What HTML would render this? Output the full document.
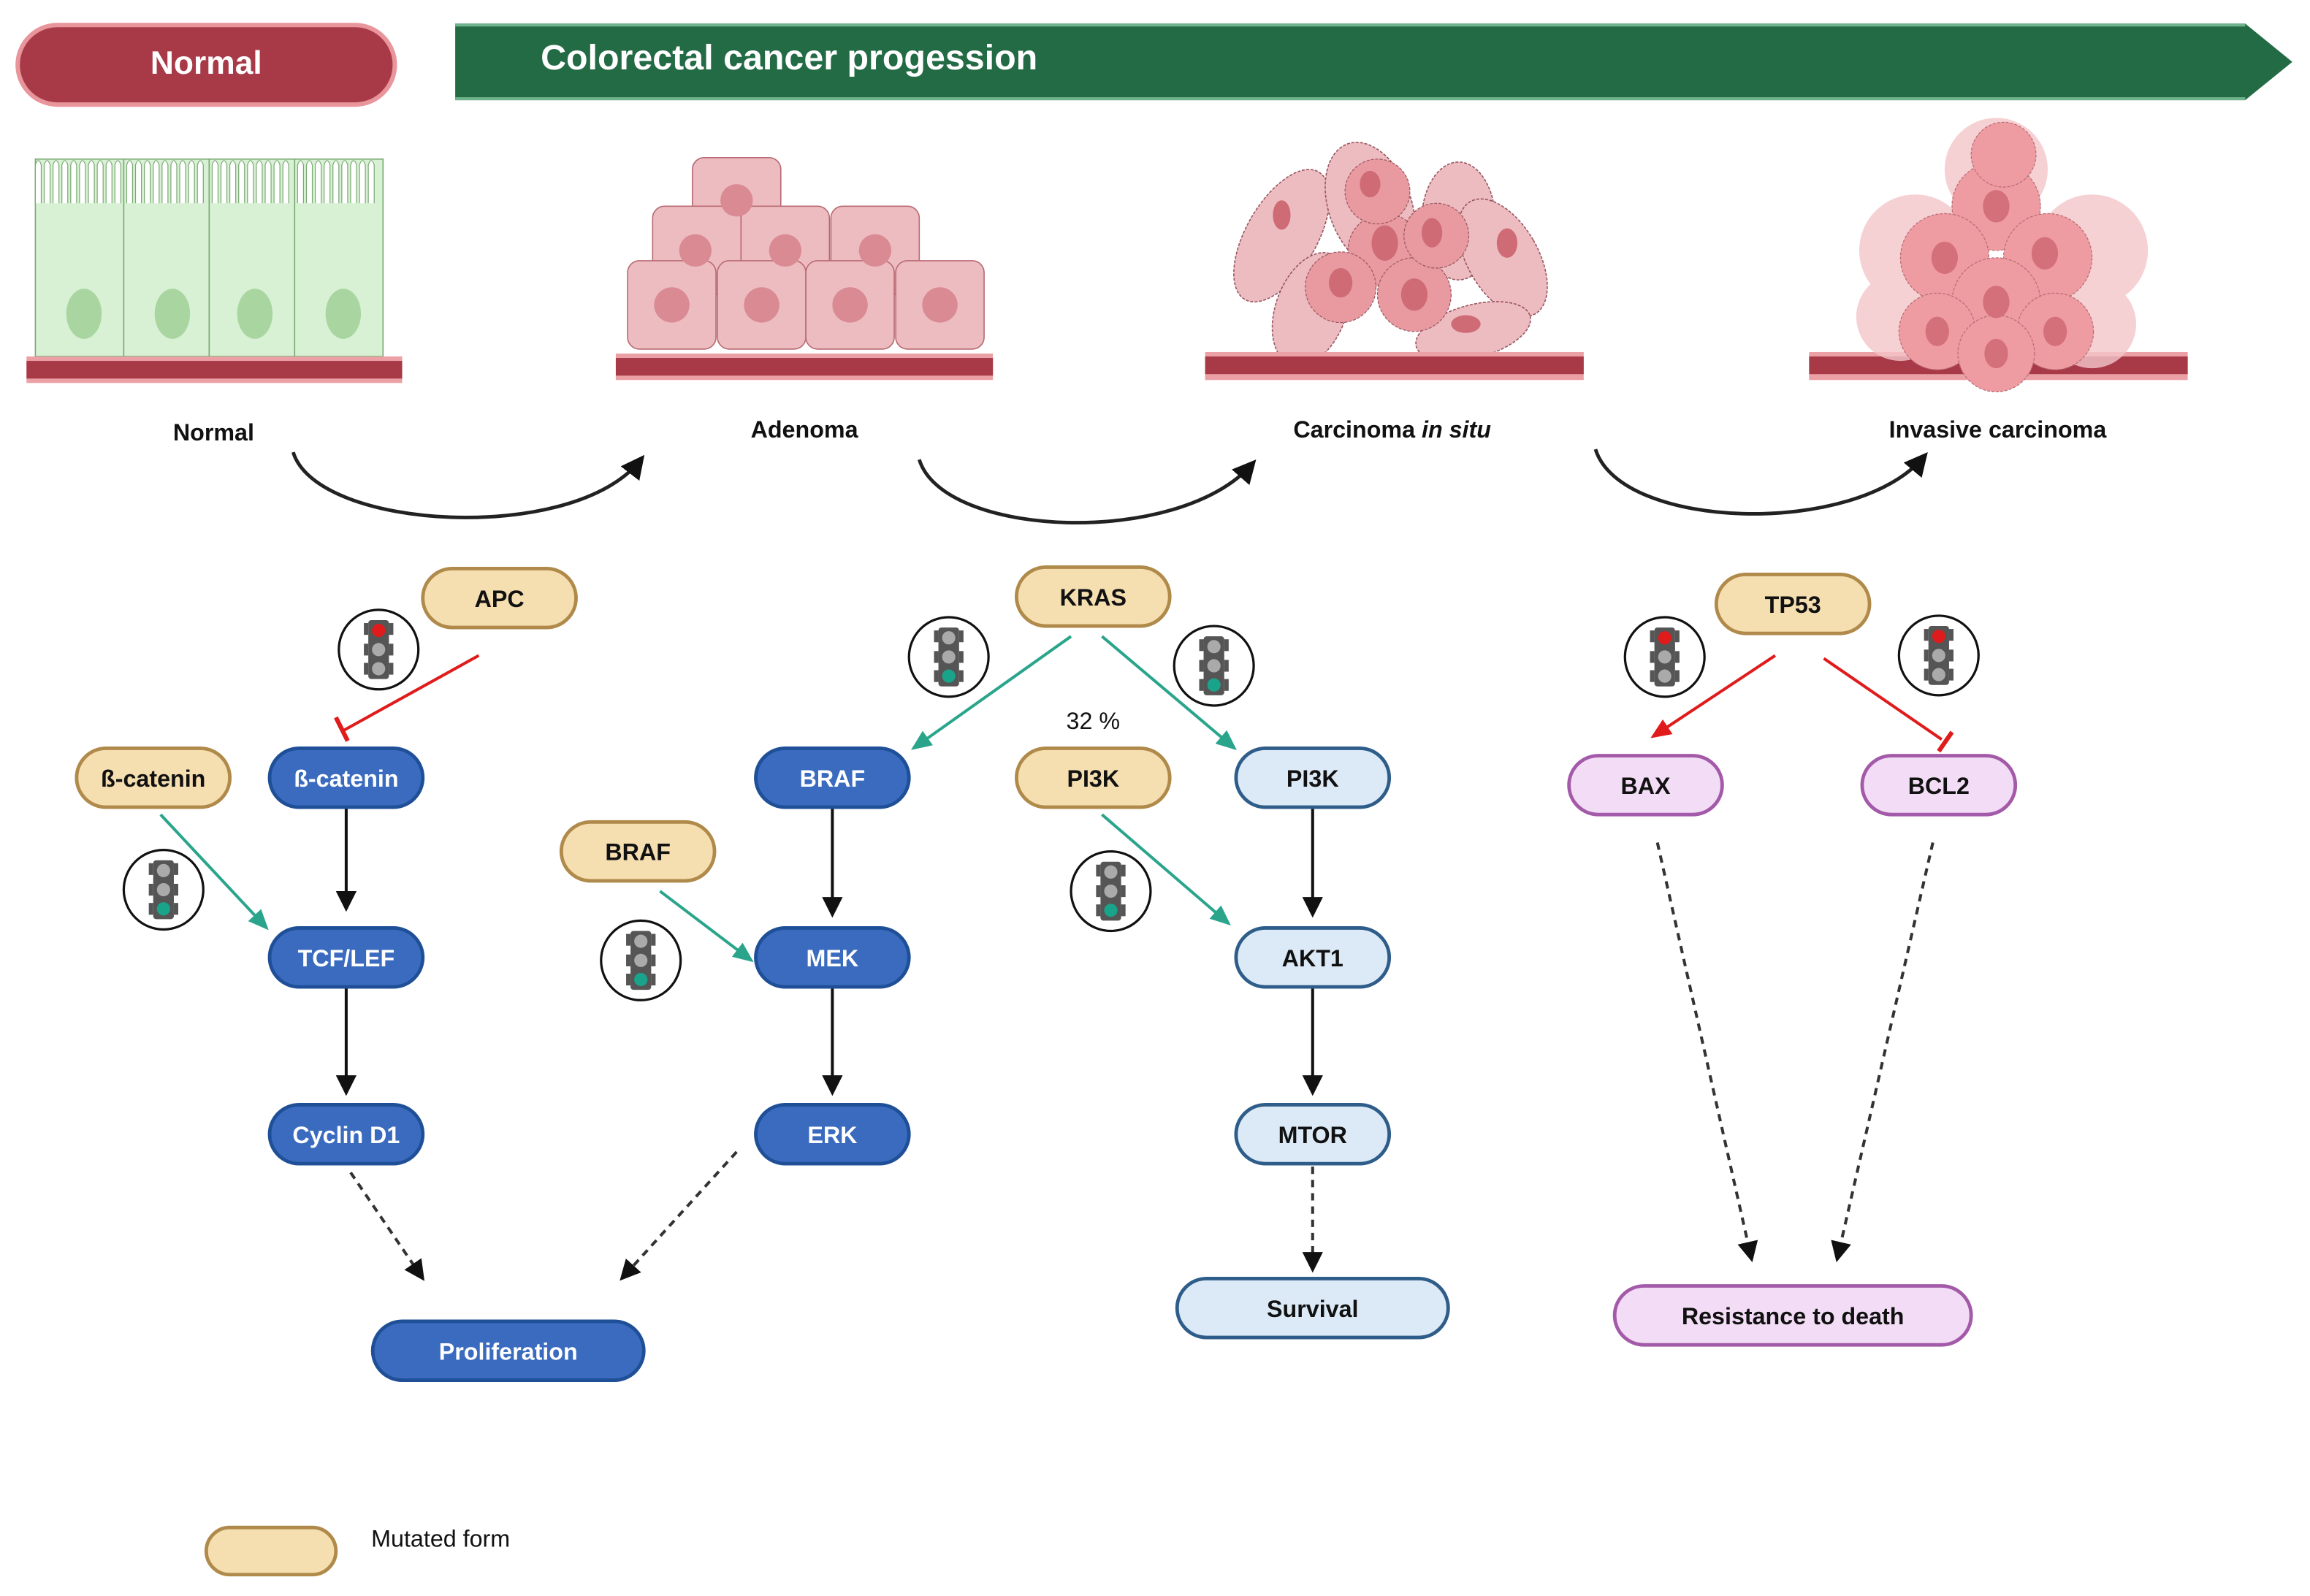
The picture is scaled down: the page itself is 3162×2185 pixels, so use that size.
<!DOCTYPE html>
<html><head><meta charset="utf-8"><style>
html,body{margin:0;padding:0;background:#fff;width:3162px;height:2185px;overflow:hidden}
svg{display:block}
text{font-family:"Liberation Sans",Arial,sans-serif;font-weight:bold}
</style></head><body>
<svg width="3162" height="2185" viewBox="0 0 1568 1083.5" preserveAspectRatio="none" xmlns="http://www.w3.org/2000/svg">
<defs>
<marker id="ab" markerWidth="14" markerHeight="14" refX="12" refY="7" orient="auto" markerUnits="userSpaceOnUse"><path d="M0,0 L14,7 L0,14 z" fill="#111"/></marker>
<marker id="ab2" markerWidth="16" markerHeight="16" refX="12" refY="8" orient="auto" markerUnits="userSpaceOnUse"><path d="M0,0 L16,8 L0,16 z" fill="#111"/></marker>
<marker id="ag" markerWidth="14" markerHeight="12" refX="12" refY="6" orient="auto" markerUnits="userSpaceOnUse"><path d="M0,0 L14,6 L0,12 z" fill="#2aa58c"/></marker>
<marker id="ar" markerWidth="14" markerHeight="12" refX="12" refY="6" orient="auto" markerUnits="userSpaceOnUse"><path d="M0,0 L14,6 L0,12 z" fill="#e01b1b"/></marker>
<g id="tl"><circle r="27" fill="#fff" stroke="#111" stroke-width="1.6"/><rect x="-7" y="-20" width="14" height="40" rx="2" fill="#555"/><rect x="-10" y="-18" width="3" height="8" fill="#555"/><rect x="7" y="-18" width="3" height="8" fill="#555"/><rect x="-10" y="-4" width="3" height="8" fill="#555"/><rect x="7" y="-4" width="3" height="8" fill="#555"/><rect x="-10" y="9" width="3" height="8" fill="#555"/><rect x="7" y="9" width="3" height="8" fill="#555"/></g>
</defs>

<!-- header -->
<rect x="12" y="17" width="256" height="54" rx="27" fill="#a83a48" stroke="#e8959b" stroke-width="3"/>
<text x="140" y="50" font-size="22" fill="#fff" text-anchor="middle">Normal</text>
<path d="M309,16 L1524,16 L1556,42 L1524,68 L309,68 z" fill="#236b45"/>
<rect x="309" y="16" width="1215" height="2" fill="#6fb38c"/>
<rect x="309" y="66" width="1215" height="2" fill="#6fb38c"/>
<text x="367" y="47" font-size="24" fill="#fff">Colorectal cancer progession</text>

<!-- normal cells -->
<g stroke="#7aa973" stroke-width="0.8" fill="#d8f1d4">
<rect x="24" y="108" width="60" height="134"/><rect x="84" y="108" width="58" height="134"/><rect x="142" y="108" width="58" height="134"/><rect x="200" y="108" width="60" height="134"/>
</g>
<g fill="#ffffff" stroke="#7aa973" stroke-width="0.6">
<path d="M24,138 L24,112 q2,-6 4,0 v26 M30,138 v-26 q2,-6 4,0 v26 M36,138 v-26 q2,-6 4,0 v26 M42,138 v-26 q2,-6 4,0 v26 M48,138 v-26 q2,-6 4,0 v26 M54,138 v-26 q2,-6 4,0 v26 M60,138 v-26 q2,-6 4,0 v26 M66,138 v-26 q2,-6 4,0 v26 M72,138 v-26 q2,-6 4,0 v26 M78,138 v-26 q2,-6 4,0 v26 M86,138 v-26 q2,-6 4,0 v26 M92,138 v-26 q2,-6 4,0 v26 M98,138 v-26 q2,-6 4,0 v26 M104,138 v-26 q2,-6 4,0 v26 M110,138 v-26 q2,-6 4,0 v26 M116,138 v-26 q2,-6 4,0 v26 M122,138 v-26 q2,-6 4,0 v26 M128,138 v-26 q2,-6 4,0 v26 M134,138 v-26 q2,-6 4,0 v26 M144,138 v-26 q2,-6 4,0 v26 M150,138 v-26 q2,-6 4,0 v26 M156,138 v-26 q2,-6 4,0 v26 M162,138 v-26 q2,-6 4,0 v26 M168,138 v-26 q2,-6 4,0 v26 M174,138 v-26 q2,-6 4,0 v26 M180,138 v-26 q2,-6 4,0 v26 M186,138 v-26 q2,-6 4,0 v26 M192,138 v-26 q2,-6 4,0 v26 M202,138 v-26 q2,-6 4,0 v26 M208,138 v-26 q2,-6 4,0 v26 M214,138 v-26 q2,-6 4,0 v26 M220,138 v-26 q2,-6 4,0 v26 M226,138 v-26 q2,-6 4,0 v26 M232,138 v-26 q2,-6 4,0 v26 M238,138 v-26 q2,-6 4,0 v26 M244,138 v-26 q2,-6 4,0 v26 M250,138 v-26 q2,-6 4,0 v26"/>
</g>
<g fill="#a9d6a0"><ellipse cx="57" cy="213" rx="12" ry="17"/><ellipse cx="117" cy="213" rx="12" ry="17"/><ellipse cx="173" cy="213" rx="12" ry="17"/><ellipse cx="233" cy="213" rx="12" ry="17"/></g>
<rect x="18" y="242" width="255" height="18" fill="#eba0a5"/><rect x="18" y="245" width="255" height="12" fill="#a83a48"/>
<text x="145" y="299" font-size="16" fill="#111" text-anchor="middle">Normal</text>

<!-- adenoma -->
<g fill="#edbcc0" stroke="#b86a72" stroke-width="0.8">
<rect x="470" y="107" width="60" height="60" rx="8"/>
<rect x="443" y="140" width="60" height="60" rx="8"/><rect x="503" y="140" width="60" height="60" rx="8"/><rect x="564" y="140" width="60" height="60" rx="8"/>
<rect x="426" y="177" width="60" height="60" rx="8"/><rect x="487" y="177" width="60" height="60" rx="8"/><rect x="547" y="177" width="60" height="60" rx="8"/><rect x="608" y="177" width="60" height="60" rx="8"/>
</g>
<g fill="#d98a92"><circle cx="500" cy="136" r="11"/><circle cx="472" cy="170" r="11"/><circle cx="533" cy="170" r="11"/><circle cx="594" cy="170" r="11"/><circle cx="456" cy="207" r="12"/><circle cx="517" cy="207" r="12"/><circle cx="577" cy="207" r="12"/><circle cx="638" cy="207" r="12"/></g>
<rect x="418" y="240" width="256" height="18" fill="#eba0a5"/><rect x="418" y="243" width="256" height="12" fill="#a83a48"/>
<text x="546" y="297" font-size="16" fill="#111" text-anchor="middle">Adenoma</text>

<!-- carcinoma in situ -->
<g fill="#edbcc0" stroke="#9a5560" stroke-width="0.8" stroke-dasharray="2,1">
<ellipse cx="870" cy="160" rx="24" ry="50" transform="rotate(30 870 160)"/>
<ellipse cx="930" cy="140" rx="28" ry="45" transform="rotate(-20 930 140)"/>
<ellipse cx="990" cy="150" rx="25" ry="40"/>
<ellipse cx="1020" cy="175" rx="24" ry="44" transform="rotate(-30 1020 175)"/>
<ellipse cx="890" cy="210" rx="24" ry="40" transform="rotate(20 890 210)"/>
<ellipse cx="1000" cy="225" rx="40" ry="18" transform="rotate(-15 1000 225)"/>
</g>
<g fill="#e89aa0" stroke="#9a5560" stroke-width="0.6" stroke-dasharray="2,1">
<circle cx="940" cy="170" r="25"/><circle cx="960" cy="200" r="25"/><circle cx="910" cy="195" r="24"/><circle cx="975" cy="160" r="22"/><circle cx="935" cy="130" r="22"/>
</g>
<g fill="#cf6b75"><ellipse cx="870" cy="146" rx="6" ry="10"/><ellipse cx="940" cy="165" rx="9" ry="12"/><ellipse cx="960" cy="200" rx="9" ry="11"/><ellipse cx="910" cy="192" rx="8" ry="10"/><ellipse cx="972" cy="158" rx="7" ry="10"/><ellipse cx="1023" cy="165" rx="7" ry="10"/><ellipse cx="995" cy="220" rx="10" ry="6"/><ellipse cx="930" cy="125" rx="7" ry="9"/></g>
<rect x="818" y="239" width="257" height="19" fill="#eba0a5"/><rect x="818" y="242" width="257" height="12" fill="#a83a48"/>
<text x="945" y="297" font-size="16" fill="#111" text-anchor="middle">Carcinoma <tspan font-style="italic">in situ</tspan></text>

<!-- invasive -->
<rect x="1228" y="239" width="257" height="19" fill="#eba0a5"/><rect x="1228" y="242" width="257" height="12" fill="#a83a48"/>
<g fill="#f4c6c9" opacity="0.8"><circle cx="1300" cy="170" r="38"/><circle cx="1420" cy="170" r="38"/><circle cx="1355" cy="115" r="35"/><circle cx="1290" cy="215" r="30"/><circle cx="1420" cy="220" r="30"/></g>
<g fill="#ee9ca2" stroke="#b96a73" stroke-width="0.6" stroke-dasharray="2,1">
<circle cx="1355" cy="140" r="30"/><circle cx="1320" cy="175" r="30"/><circle cx="1390" cy="175" r="30"/><circle cx="1355" cy="205" r="30"/><circle cx="1315" cy="225" r="26"/><circle cx="1395" cy="225" r="26"/><circle cx="1355" cy="240" r="26"/><circle cx="1360" cy="105" r="22"/>
</g>
<g fill="#d4707a"><ellipse cx="1355" cy="140" rx="9" ry="11"/><ellipse cx="1320" cy="175" rx="9" ry="11"/><ellipse cx="1388" cy="172" rx="9" ry="11"/><ellipse cx="1355" cy="205" rx="9" ry="11"/><ellipse cx="1315" cy="225" rx="8" ry="10"/><ellipse cx="1395" cy="225" rx="8" ry="10"/><ellipse cx="1355" cy="240" rx="8" ry="10"/></g>
<text x="1356" y="297" font-size="16" fill="#111" text-anchor="middle">Invasive carcinoma</text>

<!-- curved arrows -->
<g fill="none" stroke="#222" stroke-width="2.4">
<path d="M199,307 C215,360 390,370 435,312" marker-end="url(#ab2)"/>
<path d="M624,312 C640,365 800,372 850,315" marker-end="url(#ab2)"/>
<path d="M1083,305 C1100,360 1260,365 1306,310" marker-end="url(#ab2)"/>
</g>

<!-- connectors -->
<g stroke-width="2" fill="none">
<path d="M325,445 L233,496" stroke="#e01b1b"/>
<path d="M228,487 L236,503" stroke="#e01b1b" stroke-width="3"/>
<path d="M235,549 L235,617" stroke="#111" marker-end="url(#ab)"/>
<path d="M235,671 L235,742" stroke="#111" marker-end="url(#ab)"/>
<path d="M109,553 L181,630" stroke="#2aa58c" marker-end="url(#ag)"/>
<path d="M238,796 L287,868" stroke="#333" stroke-dasharray="5,4" marker-end="url(#ab)"/>
<path d="M500,782 L422,868" stroke="#333" stroke-dasharray="5,4" marker-end="url(#ab)"/>
<path d="M727,432 L620,508" stroke="#2aa58c" marker-end="url(#ag)"/>
<path d="M748,432 L838,508" stroke="#2aa58c" marker-end="url(#ag)"/>
<path d="M565,549 L565,621" stroke="#111" marker-end="url(#ab)"/>
<path d="M565,671 L565,742" stroke="#111" marker-end="url(#ab)"/>
<path d="M448,605 L510,652" stroke="#2aa58c" marker-end="url(#ag)"/>
<path d="M748,553 L834,627" stroke="#2aa58c" marker-end="url(#ag)"/>
<path d="M891,549 L891,621" stroke="#111" marker-end="url(#ab)"/>
<path d="M891,671 L891,742" stroke="#111" marker-end="url(#ab)"/>
<path d="M891,792 L891,862" stroke="#333" stroke-dasharray="5,4" marker-end="url(#ab)"/>
<path d="M1205,445 L1122,500" stroke="#e01b1b" marker-end="url(#ar)"/>
<path d="M1238,447 L1318,502" stroke="#e01b1b"/>
<path d="M1325,497 L1316,510" stroke="#e01b1b" stroke-width="3"/>
<path d="M1125,572 L1189,855" stroke="#333" stroke-dasharray="5,4" marker-end="url(#ab)"/>
<path d="M1312,572 L1247,855" stroke="#333" stroke-dasharray="5,4" marker-end="url(#ab)"/>
</g>

<!-- traffic lights -->
<use href="#tl" x="257" y="441"/><circle cx="257" cy="428" r="4.5" fill="#e01b1b"/><circle cx="257" cy="441" r="4.5" fill="#aaa"/><circle cx="257" cy="454" r="4.5" fill="#aaa"/>
<use href="#tl" x="111" y="604"/><circle cx="111" cy="591" r="4.5" fill="#aaa"/><circle cx="111" cy="604" r="4.5" fill="#aaa"/><circle cx="111" cy="617" r="4.5" fill="#1aa38b"/>
<use href="#tl" x="644" y="446"/><circle cx="644" cy="433" r="4.5" fill="#aaa"/><circle cx="644" cy="446" r="4.5" fill="#aaa"/><circle cx="644" cy="459" r="4.5" fill="#1aa38b"/>
<use href="#tl" x="824" y="452"/><circle cx="824" cy="439" r="4.5" fill="#aaa"/><circle cx="824" cy="452" r="4.5" fill="#aaa"/><circle cx="824" cy="465" r="4.5" fill="#1aa38b"/>
<use href="#tl" x="754" y="605"/><circle cx="754" cy="592" r="4.5" fill="#aaa"/><circle cx="754" cy="605" r="4.5" fill="#aaa"/><circle cx="754" cy="618" r="4.5" fill="#1aa38b"/>
<use href="#tl" x="435" y="652"/><circle cx="435" cy="639" r="4.5" fill="#aaa"/><circle cx="435" cy="652" r="4.5" fill="#aaa"/><circle cx="435" cy="665" r="4.5" fill="#1aa38b"/>
<use href="#tl" x="1130" y="446"/><circle cx="1130" cy="433" r="4.5" fill="#e01b1b"/><circle cx="1130" cy="446" r="4.5" fill="#aaa"/><circle cx="1130" cy="459" r="4.5" fill="#aaa"/>
<use href="#tl" x="1316" y="445"/><circle cx="1316" cy="432" r="4.5" fill="#e01b1b"/><circle cx="1316" cy="445" r="4.5" fill="#aaa"/><circle cx="1316" cy="458" r="4.5" fill="#aaa"/>

<!-- nodes: tan -->
<g fill="#f5deb0" stroke="#b08a4a" stroke-width="2.4">
<rect x="287" y="386" width="104" height="40" rx="20"/>
<rect x="52" y="508" width="104" height="40" rx="20"/>
<rect x="690" y="385" width="104" height="40" rx="20"/>
<rect x="690" y="508" width="104" height="40" rx="20"/>
<rect x="381" y="558" width="104" height="40" rx="20"/>
<rect x="1165" y="390" width="104" height="40" rx="20"/>
<rect x="140" y="1037" width="88" height="32" rx="16"/>
</g>
<g font-size="16" fill="#111" text-anchor="middle">
<text x="339" y="412">APC</text><text x="104" y="534">ß-catenin</text><text x="742" y="411">KRAS</text><text x="742" y="534">PI3K</text><text x="433" y="584">BRAF</text><text x="1217" y="416">TP53</text>
</g>
<!-- blue -->
<g fill="#3a6bbf" stroke="#1f4f97" stroke-width="2.4">
<rect x="183" y="508" width="104" height="40" rx="20"/><rect x="183" y="630" width="104" height="40" rx="20"/><rect x="183" y="750" width="104" height="40" rx="20"/>
<rect x="253" y="897" width="184" height="40" rx="20"/>
<rect x="513" y="508" width="104" height="40" rx="20"/><rect x="513" y="630" width="104" height="40" rx="20"/><rect x="513" y="750" width="104" height="40" rx="20"/>
</g>
<g font-size="16" fill="#fff" text-anchor="middle">
<text x="235" y="534">ß-catenin</text><text x="235" y="656">TCF/LEF</text><text x="235" y="776">Cyclin D1</text><text x="345" y="923">Proliferation</text>
<text x="565" y="534">BRAF</text><text x="565" y="656">MEK</text><text x="565" y="776">ERK</text>
</g>
<!-- light blue -->
<g fill="#dceaf7" stroke="#2f5d8a" stroke-width="2.4">
<rect x="839" y="508" width="104" height="40" rx="20"/><rect x="839" y="630" width="104" height="40" rx="20"/><rect x="839" y="750" width="104" height="40" rx="20"/>
<rect x="799" y="868" width="184" height="40" rx="20"/>
</g>
<g font-size="16" fill="#111" text-anchor="middle">
<text x="891" y="534">PI3K</text><text x="891" y="656">AKT1</text><text x="891" y="776">MTOR</text><text x="891" y="894">Survival</text>
</g>
<!-- purple -->
<g fill="#f3dcf5" stroke="#a35aa8" stroke-width="2.4">
<rect x="1065" y="513" width="104" height="40" rx="20"/><rect x="1264" y="513" width="104" height="40" rx="20"/>
<rect x="1096" y="873" width="242" height="40" rx="20"/>
</g>
<g font-size="16" fill="#111" text-anchor="middle">
<text x="1117" y="539">BAX</text><text x="1316" y="539">BCL2</text><text x="1217" y="899">Resistance to death</text>
</g>
<text x="742" y="495" font-size="16" fill="#111" text-anchor="middle" style="font-weight:normal">32 %</text>
<text x="252" y="1050" font-size="16" fill="#111" style="font-weight:normal">Mutated form</text>
</svg>
</body></html>
